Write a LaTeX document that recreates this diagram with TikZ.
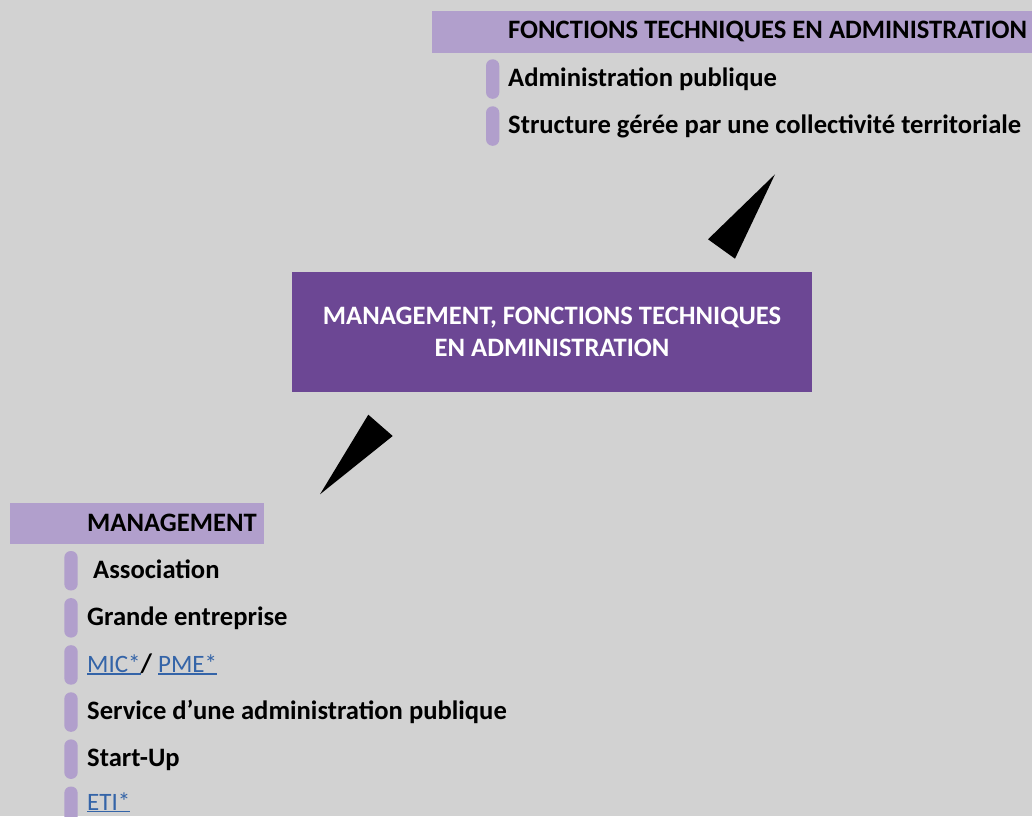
\documentclass[tikz,border=0pt]{standalone}
\usepackage{fontspec}
\setmainfont{Carlito}
\usetikzlibrary{positioning}

\definecolor{fond}{HTML}{D2D2D2}
\definecolor{lilas}{HTML}{B19FCC}
\definecolor{violet}{HTML}{6C4794}
\definecolor{bleulien}{HTML}{3464A8}

% lien souligne
\newcommand{\hlien}[1]{{\fontsize{25}{30}\selectfont\mdseries\color{bleulien}\setbox0\hbox{#1}\rlap{\rule[-1.8pt]{\wd0}{1.2pt}}\box0}}

\begin{document}
\begin{tikzpicture}[x=1pt,y=-1pt,
	txt/.style={anchor=base west,inner sep=0pt,font=\fontsize{26.6}{30}\selectfont\bfseries},
	barre/.style={fill=lilas,rounded corners=6.5pt}]
	\clip (0,0) rectangle (1032,816);
	\fill[fond] (0,0) rectangle (1032,816);

	% centre
	\node[fill=violet,text=white,minimum width=520pt,minimum height=120pt,align=center,
		font=\fontsize{26.6}{31.3}\selectfont\bfseries] (centre) at (552,331.8)
		{MANAGEMENT, FONCTIONS TECHNIQUES\\EN ADMINISTRATION};

	% haut
	\fill[lilas] (432,11) rectangle (1032,52.7);
	\node[txt] (fonct) at (508,38) {FONCTIONS TECHNIQUES EN ADMINISTRATION};
	\foreach \i in {0,1} \fill[barre] (486,59.3+47*\i) rectangle ++(13.3,39.5);
	\node[txt] (adm) at (508,86) {Administration publique};
	\node[txt] (coll) at (508,133) {Structure gérée par une collectivité territoriale};

	% bas
	\fill[lilas] (10,503) rectangle (264,544.3);
	\node[txt] (mgmt) at (87,531.7) {MANAGEMENT};
	\foreach \i in {0,...,5} \fill[barre] (64.3,551+47.1*\i) rectangle ++(13.4,39.5);
	\node[txt] (asso) at (87,578.3) {\ Association};
	\node[txt] (grande) at (87,625) {Grande entreprise};
	\node[txt] (micpme) at (87,672.7) {\hlien{MIC*}/ \hlien{PME*}};
	\node[txt] (service) at (87,719.3) {Service d’une administration publique};
	\node[txt] (startup) at (87,766) {Start-Up};
	\node[txt] (eti) at (87,810) {\hlien{ETI*}};

	% fleches
	\fill (775,174.3) -- (708,239.3) -- (735,258.7) -- cycle;
	\fill (320,494.3) -- (368.3,414.7) -- (392.7,436) -- cycle;
\end{tikzpicture}
\end{document}
